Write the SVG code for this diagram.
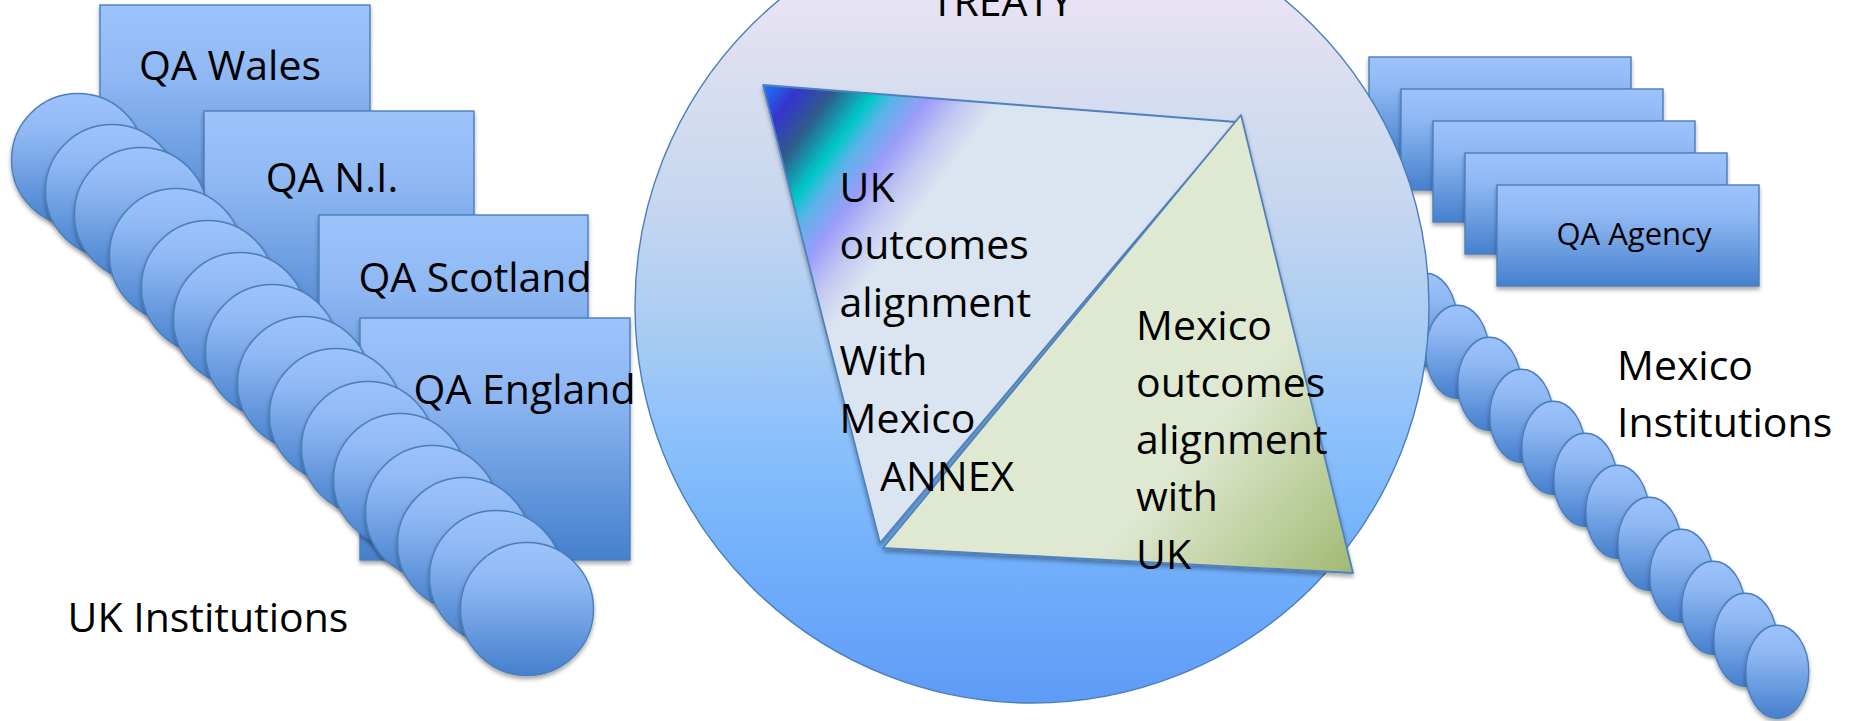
<svg xmlns="http://www.w3.org/2000/svg" width="1850" height="721" viewBox="0 0 1850 721">
<defs>
<style>
.blue{fill:url(#gBlue);stroke:#4a7ebb;stroke-width:1.4;filter:url(#sh)}
.t{font-family:"Open Sans","Liberation Sans",sans-serif;font-size:41px;fill:#000}
.ts{font-family:"Open Sans","Liberation Sans",sans-serif;font-size:31px;fill:#000}
.mid{text-anchor:middle}
</style>
<linearGradient id="gBlue" x1="0" y1="0" x2="0" y2="1">
<stop offset="0" stop-color="#9dc3fb"/>
<stop offset="0.3" stop-color="#8fb8f3"/>
<stop offset="1" stop-color="#4580cd"/>
</linearGradient>
<linearGradient id="gBig" gradientUnits="userSpaceOnUse" x1="0" y1="-91" x2="0" y2="703">
<stop offset="0" stop-color="#ece4f6"/>
<stop offset="0.13" stop-color="#e6e2f3"/>
<stop offset="0.19" stop-color="#dcdff0"/>
<stop offset="0.37" stop-color="#c6d7ef"/>
<stop offset="0.53" stop-color="#a9ccf3"/>
<stop offset="0.66" stop-color="#8cc1fb"/>
<stop offset="0.81" stop-color="#73b1fc"/>
<stop offset="1" stop-color="#5e9bf7"/>
</linearGradient>
<linearGradient id="gUK" gradientUnits="userSpaceOnUse" x1="763" y1="85" x2="923" y2="205">
<stop offset="0" stop-color="#1a7af8"/>
<stop offset="0.15" stop-color="#3535cd"/>
<stop offset="0.3" stop-color="#2f5b8b"/>
<stop offset="0.47" stop-color="#00c8c8"/>
<stop offset="0.56" stop-color="#58b4e8"/>
<stop offset="0.7" stop-color="#9a9cfa"/>
<stop offset="0.85" stop-color="#c2c8f1"/>
<stop offset="1" stop-color="#dbe4f1"/>
</linearGradient>
<linearGradient id="gMX" gradientUnits="userSpaceOnUse" x1="1200" y1="440" x2="1350" y2="570">
<stop offset="0" stop-color="#dfe9d2"/>
<stop offset="1" stop-color="#a3ba74"/>
</linearGradient>
<filter id="sh" x="-20%" y="-20%" width="140%" height="140%">
<feDropShadow dx="0" dy="3" stdDeviation="2" flood-color="#000" flood-opacity="0.35"/>
</filter>
</defs>
<rect width="1850" height="721" fill="#ffffff"/>

<g id="qa-wales"><rect class="blue" x="100" y="5" width="270" height="242"/></g>
<g id="qa-ni"><rect class="blue" x="204" y="111" width="270" height="242"/></g>
<g id="qa-scotland"><rect class="blue" x="319" y="215" width="269" height="242"/></g>
<g id="qa-england"><rect class="blue" x="360" y="318" width="270" height="242"/></g>

<g id="uk-institutions">
<circle class="blue" cx="78" cy="160" r="66.5"/>
<circle class="blue" cx="112" cy="191" r="66.5"/>
<circle class="blue" cx="141" cy="214" r="66.5"/>
<circle class="blue" cx="176" cy="255" r="66.5"/>
<circle class="blue" cx="208" cy="287" r="66.5"/>
<circle class="blue" cx="240" cy="319" r="66.5"/>
<circle class="blue" cx="272" cy="351" r="66.5"/>
<circle class="blue" cx="304" cy="383" r="66.5"/>
<circle class="blue" cx="336" cy="415" r="66.5"/>
<circle class="blue" cx="368" cy="448" r="66.5"/>
<circle class="blue" cx="400" cy="480" r="66.5"/>
<circle class="blue" cx="432" cy="512" r="66.5"/>
<circle class="blue" cx="464" cy="544" r="66.5"/>
<circle class="blue" cx="496" cy="577" r="66.5"/>
<circle class="blue" cx="527" cy="609" r="66.5"/>
</g>

<g id="qa-labels">
<text class="t mid" x="230" y="80">QA Wales</text>
<text class="t mid" x="332" y="191.5">QA N.I.</text>
<text class="t mid" x="475" y="292">QA Scotland</text>
<text class="t mid" x="524.5" y="404">QA England</text>
</g>

<g id="uk-label"><text class="t mid" x="208" y="632">UK Institutions</text></g>

<g id="qa-agency-1"><rect class="blue" x="1369" y="57" width="262" height="101"/></g>
<g id="qa-agency-2"><rect class="blue" x="1401" y="89" width="262" height="101"/></g>
<g id="qa-agency-3"><rect class="blue" x="1433" y="121" width="262" height="101"/></g>
<g id="qa-agency-4"><rect class="blue" x="1465" y="153" width="262" height="101"/></g>
<g id="qa-agency-5"><rect class="blue" x="1497" y="185" width="262" height="101"/>
<text class="ts mid" x="1634" y="245">QA Agency</text></g>

<g id="mexico-institutions">
<ellipse class="blue" cx="1425.3" cy="319.8" rx="31.5" ry="46.5"/>
<ellipse class="blue" cx="1457.3" cy="351.8" rx="31.5" ry="46.5"/>
<ellipse class="blue" cx="1489.3" cy="383.8" rx="31.5" ry="46.5"/>
<ellipse class="blue" cx="1521.3" cy="415.8" rx="31.5" ry="46.5"/>
<ellipse class="blue" cx="1553.3" cy="447.8" rx="31.5" ry="46.5"/>
<ellipse class="blue" cx="1585.3" cy="479.8" rx="31.5" ry="46.5"/>
<ellipse class="blue" cx="1617.3" cy="511.8" rx="31.5" ry="46.5"/>
<ellipse class="blue" cx="1649.3" cy="543.8" rx="31.5" ry="46.5"/>
<ellipse class="blue" cx="1681.3" cy="575.8" rx="31.5" ry="46.5"/>
<ellipse class="blue" cx="1713.3" cy="607.8" rx="31.5" ry="46.5"/>
<ellipse class="blue" cx="1745.3" cy="639.8" rx="31.5" ry="46.5"/>
<ellipse class="blue" cx="1777.3" cy="671.8" rx="31.5" ry="46.5"/>
</g>

<g id="mexico-label">
<text class="t" x="1617" y="380">Mexico</text>
<text class="t" x="1617" y="436.5">Institutions</text>
</g>

<g id="treaty">
<circle cx="1032" cy="306" r="397" fill="url(#gBig)" stroke="#4a7ebb" stroke-width="1.4"/>
<text class="t mid" x="1002" y="15.5">TREATY</text>
</g>

<g id="uk-outcomes">
<polygon points="763,85 1236,122 880,543" fill="url(#gUK)" stroke="#4f81bd" stroke-width="1.8" stroke-linejoin="round" filter="url(#sh)"/>
</g>
<g id="mexico-outcomes">
<polygon points="1241,115 883,548 1353,573" fill="url(#gMX)" stroke="#4f81bd" stroke-width="1.8" stroke-linejoin="round" filter="url(#sh)"/>
</g>

<g id="uk-outcomes-text">
<text class="t" x="839.5" y="201.5">UK</text>
<text class="t" x="839.5" y="259.3">outcomes</text>
<text class="t" x="839.5" y="317.1">alignment</text>
<text class="t" x="839.5" y="374.9">With</text>
<text class="t" x="839.5" y="432.7">Mexico</text>
<text class="t" x="880" y="490.5">ANNEX</text>
</g>
<g id="mexico-outcomes-text">
<text class="t" x="1136" y="339.5">Mexico</text>
<text class="t" x="1136" y="396.8">outcomes</text>
<text class="t" x="1136" y="454.1">alignment</text>
<text class="t" x="1136" y="511.4">with</text>
<text class="t" x="1136" y="568.7">UK</text>
</g>

<g id="connectors"></g>
</svg>
